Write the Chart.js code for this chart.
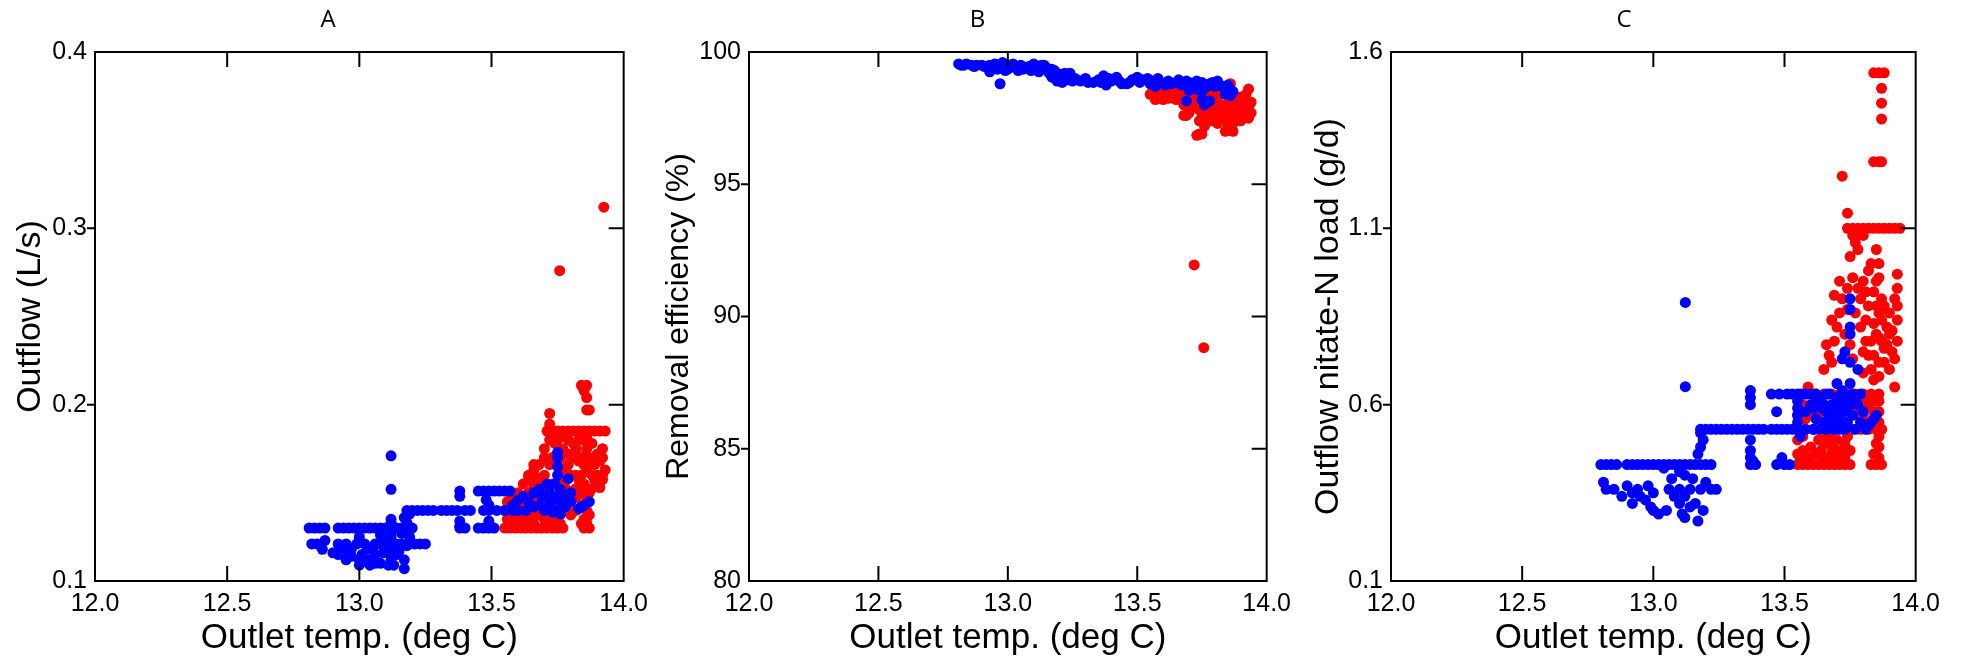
<!DOCTYPE html>
<html>
<head>
<meta charset="utf-8">
<script src="https://cdn.jsdelivr.net/npm/chart.js@4.4.1/dist/chart.umd.min.js"></script>
<style>
html,body{margin:0;padding:0;background:#fff;width:1971px;height:662px;overflow:hidden;}
canvas{position:absolute;top:0;}
</style>
</head>
<body>
<canvas id="cA" style="left:0px"></canvas>
<canvas id="cB" style="left:656px"></canvas>
<canvas id="cC" style="left:1300px"></canvas>
<script>
// ---------- DATA ----------
const panelTitles = ['A', 'B', 'C'];
const xTitle = 'Outlet temp. (deg C)';
const yTitles = ['Outflow (L/s)', 'Removal efficiency (%)', 'Outflow nitate-N load (g/d)'];

const xTickValues = [12.0, 12.5, 13.0, 13.5, 14.0];
const xTickLabels = ['12.0', '12.5', '13.0', '13.5', '14.0'];

const yTickValuesA = [0.1, 0.2, 0.3, 0.4];
const yTickLabelsA = ['0.1', '0.2', '0.3', '0.4'];
const yTickValuesB = [80, 85, 90, 95, 100];
const yTickLabelsB = ['80', '85', '90', '95', '100'];
const yTickValuesC = [0.1, 0.6, 1.1, 1.6];
const yTickLabelsC = ['0.1', '0.6', '1.1', '1.6'];

// Panel A: outflow (L/s) vs outlet temperature
const blueA = [
 [12.81,0.130],[12.83,0.130],[12.85,0.130],[12.87,0.130],[12.92,0.130],[12.94,0.130],[12.96,0.130],[12.98,0.130],[13.00,0.130],[13.02,0.130],[13.04,0.130],[13.06,0.130],[13.08,0.130],[13.10,0.130],[13.12,0.130],[13.14,0.130],[13.16,0.130],[13.18,0.130],[13.20,0.130],
 [12.82,0.121],[12.84,0.121],[12.92,0.121],[12.95,0.121],[12.99,0.121],[13.02,0.121],[13.08,0.121],[13.10,0.121],[13.14,0.121],[13.16,0.121],[13.19,0.121],[13.21,0.121],[13.23,0.121],[13.25,0.121],
 [12.86,0.118],[12.93,0.118],[12.97,0.118],[13.05,0.118],[13.12,0.118],
 [12.92,0.115],[12.96,0.115],[13.01,0.115],[13.06,0.115],[13.12,0.115],[13.14,0.115],
 [12.95,0.112],[13.00,0.112],[13.04,0.112],[13.12,0.112],[13.17,0.112],
 [13.00,0.109],[13.04,0.109],[13.06,0.110],[13.11,0.109],[13.13,0.109],[13.17,0.107],
 [12.87,0.123],[12.90,0.116],[12.94,0.119],[12.97,0.114],[13.03,0.118],[13.06,0.121],[13.09,0.116],[13.15,0.117],[13.18,0.120],[13.02,0.111],[13.08,0.110],
 [13.00,0.125],[13.08,0.126],[13.11,0.124],[13.16,0.127],[13.19,0.125],
 [13.12,0.122],[13.12,0.125],[13.12,0.128],[13.12,0.133],[13.12,0.135],
 [13.18,0.133],[13.17,0.136],[13.19,0.138],
 [13.18,0.140],[13.20,0.140],[13.22,0.140],[13.24,0.140],[13.26,0.140],[13.28,0.140],[13.31,0.140],[13.33,0.140],[13.35,0.140],[13.37,0.140],[13.40,0.140],[13.42,0.140],[13.47,0.140],[13.49,0.140],[13.52,0.140],[13.55,0.140],[13.58,0.140],[13.60,0.140],
 [13.38,0.151],[13.38,0.148],[13.38,0.134],[13.38,0.131],[13.38,0.130],[13.40,0.130],
 [13.45,0.151],[13.47,0.151],[13.49,0.151],[13.51,0.151],[13.53,0.151],[13.55,0.151],[13.57,0.151],
 [13.48,0.146],[13.49,0.143],
 [13.45,0.130],[13.47,0.130],[13.49,0.130],[13.51,0.130],[13.49,0.134],
 [13.58,0.143],[13.60,0.146],[13.62,0.148],[13.64,0.145],[13.66,0.150],[13.68,0.152],[13.68,0.143],[13.70,0.148],[13.70,0.140],[13.72,0.150],[13.72,0.144],[13.74,0.155],[13.74,0.147],[13.74,0.140],[13.75,0.160],[13.75,0.165],[13.75,0.170],[13.75,0.173],[13.76,0.152],[13.76,0.145],[13.78,0.148],[13.78,0.142],[13.79,0.158],[13.80,0.150],[13.80,0.145],[13.76,0.138],[13.73,0.139],[13.69,0.148],[13.71,0.155],[13.66,0.142],[13.63,0.140],
 [13.83,0.141],[13.85,0.143],[13.87,0.145],[13.84,0.142],
 [13.12,0.171],[13.12,0.152]
];
const redA = [
 [13.55,0.130],[13.57,0.130],[13.59,0.130],[13.61,0.130],[13.63,0.130],[13.65,0.130],[13.67,0.130],[13.69,0.130],[13.71,0.130],[13.73,0.130],[13.75,0.130],[13.77,0.130],[13.85,0.130],[13.87,0.130],
 [13.58,0.1325],[13.62,0.1325],[13.66,0.1325],[13.72,0.1325],[13.76,0.1325],[13.84,0.1325],
 [13.56,0.135],[13.60,0.135],[13.64,0.135],[13.70,0.135],[13.74,0.135],[13.85,0.135],[13.86,0.133],
 [13.57,0.1375],[13.61,0.1375],[13.65,0.1375],[13.68,0.1375],[13.72,0.1375],[13.76,0.1375],[13.80,0.1375],[13.87,0.1375],
 [13.55,0.140],[13.58,0.140],[13.62,0.140],[13.66,0.140],[13.70,0.140],[13.74,0.140],[13.78,0.140],[13.82,0.140],[13.86,0.140],
 [13.60,0.1425],[13.64,0.1425],[13.68,0.1425],[13.72,0.1425],[13.76,0.1425],[13.84,0.1425],
 [13.56,0.145],[13.59,0.145],[13.63,0.145],[13.67,0.145],[13.80,0.145],[13.86,0.145],
 [13.58,0.1475],[13.62,0.1475],[13.66,0.1475],[13.70,0.1475],[13.74,0.1475],[13.78,0.1475],[13.82,0.1475],[13.86,0.1475],
 [13.57,0.150],[13.60,0.150],[13.64,0.150],[13.68,0.150],[13.72,0.150],[13.76,0.150],[13.80,0.150],[13.84,0.150],[13.87,0.150],
 [13.66,0.1525],[13.70,0.1525],[13.78,0.1525],[13.82,0.1525],[13.88,0.1525],
 [13.62,0.155],[13.66,0.155],[13.73,0.155],[13.85,0.155],[13.91,0.153],
 [13.64,0.1575],[13.69,0.1575],[13.76,0.1575],[13.83,0.1575],[13.89,0.1575],[13.92,0.1575],
 [13.64,0.160],[13.66,0.160],[13.70,0.160],[13.80,0.160],[13.82,0.160],[13.84,0.160],[13.88,0.160],[13.90,0.160],[13.92,0.160],
 [13.66,0.163],[13.78,0.163],[13.86,0.163],[13.93,0.163],
 [13.66,0.166],[13.68,0.166],[13.72,0.166],[13.79,0.166],[13.85,0.166],[13.89,0.166],
 [13.75,0.168],[13.83,0.168],[13.91,0.168],
 [13.70,0.170],[13.73,0.170],[13.76,0.170],[13.81,0.170],[13.84,0.170],[13.87,0.170],[13.92,0.170],
 [13.79,0.172],[13.90,0.172],
 [13.70,0.175],[13.77,0.175],[13.82,0.175],[13.86,0.175],[13.92,0.175],
 [13.74,0.178],[13.81,0.178],[13.88,0.178],
 [13.72,0.180],[13.75,0.180],[13.79,0.180],[13.83,0.180],[13.85,0.180],
 [13.77,0.182],[13.86,0.182],
 [13.71,0.185],[13.73,0.185],[13.75,0.185],[13.77,0.185],[13.79,0.185],[13.81,0.185],[13.83,0.185],[13.85,0.185],[13.87,0.185],[13.89,0.185],[13.91,0.185],[13.93,0.185],
 [13.72,0.189],[13.72,0.195],[13.86,0.197],[13.87,0.197],[13.86,0.204],[13.85,0.208],[13.84,0.211],[13.86,0.211],
 [13.758,0.276],[13.925,0.312]
];

// Panel B: removal efficiency (%) vs outlet temperature
const blueB = [
 [12.81,99.55],[12.83,99.50],[12.84,99.55],[12.86,99.50],[12.88,99.50],[12.91,99.45],[12.93,99.50],[12.95,99.55],[12.97,99.45],[12.98,99.60],[13.00,99.50],[13.00,99.35],[13.02,99.55],[13.03,99.40],[13.05,99.50],[13.06,99.35],[13.08,99.45],[13.10,99.55],[13.11,99.40],[13.13,99.50],[13.14,99.35],[12.93,99.25],[12.96,99.35],[12.99,99.30],[13.04,99.30],[13.09,99.30],[13.12,99.25],
 [12.82,99.50],[12.87,99.45],[12.90,99.50],[12.94,99.40],[12.96,99.50],[13.01,99.45],[13.07,99.40],[13.12,99.40],[13.14,99.50],[13.17,99.35],[13.19,99.20],[13.21,99.10],
 [12.97,98.80],
 [13.15,99.40],[13.16,99.20],[13.17,99.05],[13.18,99.30],[13.19,98.90],[13.20,99.10],[13.21,98.85],[13.22,99.20],[13.23,98.95],[13.24,99.20],[13.25,98.90],
 [13.26,99.00],[13.31,98.85],[13.35,98.95],[13.39,99.00],[13.43,98.90],[13.47,98.85],[13.51,98.85],[13.55,98.80],[13.58,99.00],[13.62,98.90],[13.66,98.95],[13.70,98.85],[13.74,98.75],[13.78,98.80],[13.80,98.70],[13.83,98.70],[13.85,98.75],[13.87,98.50],
 [13.28,98.90],[13.30,99.00],[13.33,98.85],[13.36,98.85],[13.37,99.10],[13.38,98.75],[13.40,98.90],[13.42,99.05],[13.44,98.80],[13.46,98.80],[13.48,98.95],[13.50,99.05],[13.52,98.95],[13.54,99.00],[13.56,98.90],[13.57,98.70],[13.59,98.85],[13.61,98.75],[13.63,98.80],[13.65,98.85],[13.67,98.75],[13.69,98.90],[13.69,98.15],[13.71,98.80],[13.73,98.90],[13.75,98.85],[13.75,98.50],[13.75,98.20],[13.76,98.00],[13.77,98.70],[13.78,98.15],[13.79,98.85],[13.81,98.90],[13.82,98.75],[13.84,98.65],[13.86,98.60],[13.86,98.35],[13.84,98.40],[13.70,98.55],[13.73,98.60]
];
const redB = [
 [13.55,98.40],[13.57,98.30],[13.58,98.50],[13.60,98.35],[13.61,98.55],[13.62,98.25],[13.64,98.45],[13.65,98.30],[13.66,98.55],[13.67,98.20],[13.68,98.00],[13.69,97.60],[13.70,97.70],[13.71,98.40],[13.72,98.60],[13.73,98.10],[13.74,97.80],[13.74,97.40],[13.73,96.85],[13.75,96.90],[13.76,97.20],[13.77,97.60],[13.78,97.90],[13.79,98.30],[13.80,97.70],[13.81,98.10],[13.82,97.80],[13.83,97.50],[13.84,98.00],[13.84,97.00],[13.85,98.50],[13.86,98.80],[13.86,97.70],[13.87,97.00],[13.87,98.20],[13.88,97.50],[13.89,98.00],[13.90,97.70],[13.91,98.20],[13.92,98.00],[13.93,98.60],[13.93,97.50],[13.92,97.80],[13.94,98.10],[13.90,98.30],[13.88,97.80],[13.80,97.50],[13.77,98.40],[13.76,97.70],[13.83,98.50],[13.79,97.40],
 [13.56,98.50],[13.59,98.30],[13.63,98.35],[13.66,98.40],[13.69,98.30],[13.70,98.10],[13.71,97.90],[13.72,98.20],[13.75,97.50],[13.76,98.30],[13.78,97.50],[13.78,98.60],[13.80,98.20],[13.81,97.60],[13.82,98.40],[13.83,97.90],[13.84,97.60],[13.85,97.30],[13.85,97.90],[13.86,98.20],[13.87,97.60],[13.88,98.30],[13.89,97.60],[13.90,97.40],[13.91,97.90],[13.92,98.40],[13.93,97.90],[13.94,97.70],[13.74,96.90],[13.76,97.90],[13.79,98.00],[13.81,97.30],[13.86,97.20],[13.87,97.30],[13.68,97.60],[13.74,98.50],[13.77,98.10],[13.65,98.20],[13.60,98.20],[13.57,98.20],
 [13.72,91.95],[13.757,88.82]
];

// Panel C: outflow nitrate-N load (g/d) vs outlet temperature
const blueC = [
 [12.80,0.43],[12.82,0.43],[12.84,0.43],[12.86,0.43],[12.90,0.43],[12.92,0.43],[12.94,0.43],[12.96,0.43],[12.98,0.43],[13.00,0.43],[13.02,0.43],[13.04,0.43],[13.06,0.43],[13.08,0.43],[13.10,0.43],[13.12,0.43],[13.14,0.43],[13.16,0.43],[13.18,0.43],[13.20,0.43],[13.22,0.43],
 [12.81,0.38],[12.82,0.36],[12.85,0.36],[12.88,0.34],[12.90,0.37],[12.92,0.35],[12.92,0.32],[12.94,0.36],[12.95,0.34],[12.97,0.33],[12.98,0.37],[12.99,0.31],[13.00,0.35],[13.00,0.30],[13.02,0.29],[13.05,0.30],[13.06,0.36],[13.07,0.39],[13.08,0.34],[13.10,0.32],[13.10,0.36],[13.11,0.29],[13.12,0.34],[13.12,0.28],[13.14,0.31],[13.14,0.36],[13.15,0.39],[13.16,0.32],[13.17,0.27],[13.18,0.36],[13.19,0.30],[13.20,0.38],[13.22,0.36],[13.24,0.36],[13.12,0.40],[13.10,0.41],[13.04,0.42],
 [13.17,0.46],[13.18,0.48],[13.19,0.50],[13.18,0.52],
 [13.18,0.53],[13.20,0.53],[13.22,0.53],[13.24,0.53],[13.26,0.53],[13.28,0.53],[13.30,0.53],[13.32,0.53],[13.34,0.53],[13.36,0.53],[13.38,0.53],[13.40,0.53],[13.42,0.53],[13.45,0.53],[13.47,0.53],[13.49,0.53],[13.51,0.53],[13.53,0.53],[13.55,0.53],[13.58,0.53],[13.61,0.53],
 [13.37,0.64],[13.37,0.62],[13.37,0.60],[13.37,0.50],[13.37,0.47],[13.37,0.45],[13.38,0.44],[13.37,0.43],[13.39,0.43],
 [13.45,0.63],[13.48,0.63],[13.51,0.63],[13.53,0.63],[13.55,0.63],[13.58,0.63],[13.60,0.63],[13.62,0.63],
 [13.47,0.58],[13.52,0.43],[13.49,0.45],[13.47,0.43],[13.50,0.43],
 [13.55,0.61],[13.55,0.59],[13.55,0.57],[13.55,0.55],[13.56,0.51],
 [13.61,0.59],[13.62,0.56],[13.64,0.62],[13.65,0.55],[13.66,0.58],[13.67,0.63],[13.68,0.60],[13.68,0.55],[13.69,0.53],[13.70,0.62],[13.70,0.57],[13.71,0.60],[13.72,0.54],[13.72,0.64],[13.73,0.58],[13.74,0.62],[13.74,0.55],[13.75,0.60],[13.75,0.66],[13.75,0.72],[13.75,0.80],[13.75,0.82],[13.75,0.87],[13.75,0.90],[13.76,0.57],[13.76,0.63],[13.77,0.53],[13.78,0.60],[13.78,0.70],[13.79,0.63],[13.80,0.58],[13.72,0.73],[13.73,0.75],[13.70,0.66],[13.66,0.63],[13.63,0.53],[13.64,0.59],
 [13.62,0.61],[13.65,0.60],[13.67,0.56],[13.69,0.58],[13.71,0.56],[13.73,0.61],[13.74,0.59],[13.77,0.62],[13.79,0.55],[13.66,0.53],[13.71,0.53],[13.73,0.53],[13.60,0.60],[13.57,0.63],[13.58,0.58],
 [13.81,0.53],[13.82,0.54],[13.83,0.55],[13.84,0.56],[13.85,0.57],
 [13.122,0.89],[13.122,0.651]
];
const redC = [
 [13.55,0.43],[13.57,0.43],[13.59,0.43],[13.61,0.43],[13.63,0.43],[13.65,0.43],[13.67,0.43],[13.69,0.43],[13.71,0.43],[13.73,0.43],[13.75,0.43],[13.83,0.43],[13.85,0.43],[13.87,0.43],
 [13.55,0.53],[13.58,0.53],[13.61,0.53],[13.64,0.53],[13.67,0.53],[13.70,0.53],[13.73,0.53],[13.76,0.53],[13.79,0.53],[13.82,0.53],[13.85,0.53],[13.87,0.53],
 [13.56,0.63],[13.59,0.63],[13.62,0.63],[13.65,0.63],[13.68,0.63],[13.71,0.63],[13.74,0.63],[13.77,0.63],[13.80,0.63],[13.83,0.63],[13.86,0.63],
 [13.55,0.46],[13.55,0.50],[13.55,0.57],[13.57,0.47],[13.59,0.45],[13.65,0.45],[13.65,0.49],[13.65,0.52],[13.68,0.48],[13.68,0.50],[13.68,0.46],[13.70,0.47],[13.73,0.45],[13.73,0.49],[13.75,0.47],[13.86,0.45],[13.86,0.48],[13.86,0.51],[13.86,0.55],[13.86,0.58],[13.86,0.61],
 [13.56,0.44],[13.57,0.51],[13.60,0.48],[13.62,0.46],[13.64,0.47],[13.66,0.44],[13.67,0.51],[13.69,0.45],[13.70,0.50],[13.71,0.44],[13.72,0.47],[13.74,0.51],[13.63,0.50],[13.58,0.56],[13.57,0.60],[13.60,0.58],[13.63,0.57],[13.80,0.57],[13.82,0.60],[13.84,0.58],[13.85,0.61],[13.81,0.62],[13.77,0.59],[13.79,0.56],[13.86,0.44],[13.84,0.46],[13.87,0.53],[13.85,0.49],
 [13.59,0.65],[13.61,0.63],[13.65,0.70],[13.67,0.74],[13.66,0.77],[13.69,0.78],[13.70,0.82],[13.68,0.84],[13.69,0.91],[13.71,0.95],[13.72,0.90],[13.74,0.93],[13.74,0.87],[13.75,0.77],[13.76,0.96],[13.76,0.73],[13.78,0.93],[13.79,0.82],[13.80,0.75],[13.80,0.95],[13.81,0.78],[13.82,0.88],[13.82,0.98],[13.83,0.70],[13.83,1.00],[13.84,0.74],[13.84,0.92],[13.85,1.04],[13.85,0.80],[13.86,0.86],[13.86,0.96],[13.86,0.72],[13.87,0.90],[13.87,0.78],[13.88,0.76],[13.89,0.82],[13.90,0.70],[13.90,0.80],[13.91,0.75],[13.92,0.73],[13.93,0.78],[13.93,0.84],[13.93,0.88],[13.93,0.93],[13.93,0.97],[13.92,0.65],[13.80,1.08],[13.75,1.02],[13.78,1.04],
 [13.68,0.72],[13.71,0.86],[13.73,0.80],[13.77,0.86],[13.79,0.90],[13.81,0.84],[13.82,0.74],[13.84,0.83],[13.85,0.88],[13.85,0.95],[13.86,0.79],[13.87,0.84],[13.88,0.88],[13.88,0.72],[13.89,0.77],[13.90,0.86],[13.91,0.81],[13.92,0.90],[13.83,0.78],[13.81,0.92],[13.86,1.00],[13.86,0.68],[13.84,0.67],[13.80,0.69],[13.77,1.06],
 [13.74,1.10],[13.76,1.10],[13.78,1.10],[13.80,1.10],[13.82,1.10],[13.84,1.10],[13.86,1.10],[13.88,1.10],[13.90,1.10],[13.92,1.10],[13.94,1.10],[13.76,1.08],
 [13.84,1.289],[13.86,1.289],[13.87,1.289],[13.87,1.41],[13.87,1.455],[13.87,1.497],[13.84,1.541],[13.86,1.541],[13.88,1.541],
 [13.72,1.248],[13.74,1.143]
];

// ---------- RENDERING ----------
const BLUE = '#0000ff', RED = '#ff0000';
const TICK_FONT = {family: "'Liberation Sans', Arial, sans-serif", size: 25};

const frameTicks = {
  id: 'frameTicks',
  afterDatasetsDraw(chart) {
    const {ctx, chartArea: {left, right, top, bottom}, scales: {x, y}} = chart;
    ctx.save();
    ctx.strokeStyle = '#000';
    ctx.lineWidth = 2;
    ctx.strokeRect(left, top, right - left, bottom - top);
    ctx.beginPath();
    x.ticks.forEach(t => {
      const px = x.getPixelForValue(t.value);
      if (px <= left + 1 || px >= right - 1) return;
      ctx.moveTo(px, top); ctx.lineTo(px, top + 15);
      ctx.moveTo(px, bottom); ctx.lineTo(px, bottom - 15);
    });
    y.ticks.forEach(t => {
      const py = y.getPixelForValue(t.value);
      if (py <= top + 1 || py >= bottom - 1) return;
      ctx.moveTo(left - 8, py); ctx.lineTo(left, py);
      ctx.moveTo(right, py); ctx.lineTo(right - 15, py);
    });
    ctx.stroke();
    ctx.restore();
  }
};

function makeChart(id, cfg) {
  const cv = document.getElementById(id);
  cv.width = cfg.width; cv.height = 662;
  cv.style.width = cfg.width + 'px'; cv.style.height = '662px';
  return new Chart(cv, {
    type: 'scatter',
    data: {
      datasets: [
        {data: cfg.blue.map(([x, y]) => ({x, y})), backgroundColor: BLUE, borderWidth: 0, pointRadius: 5.5, pointHoverRadius: 5.5},
        {data: cfg.red.map(([x, y]) => ({x, y})), backgroundColor: RED, borderWidth: 0, pointRadius: 5.5, pointHoverRadius: 5.5}
      ]
    },
    options: {
      responsive: false,
      animation: false,
      devicePixelRatio: 1,
      events: [],
      layout: {padding: 0},
      plugins: {
        legend: {display: false},
        tooltip: {enabled: false},
        title: {
          display: true, text: cfg.title, color: '#000',
          font: {family: "'Open Sans', sans-serif", size: 24, weight: 'normal', lineHeight: 1.2},
          padding: {top: 5.3, bottom: 17.9}
        }
      },
      scales: {
        x: {
          type: 'linear', min: 12, max: 14,
          afterBuildTicks: s => { s.ticks = xTickValues.map(v => ({value: v})); },
          afterFit: s => { s.height = 81; },
          grid: {display: false, drawTicks: false},
          border: {display: false},
          ticks: {font: TICK_FONT, color: '#000', padding: 8, maxRotation: 0, minRotation: 0, autoSkip: false,
                  callback: (v, i) => xTickLabels[i]},
          title: {display: true, text: xTitle, color: '#000',
                  font: {family: "'Liberation Sans', Arial, sans-serif", size: 35, lineHeight: 1},
                  padding: {top: 0, bottom: 6.6}}
        },
        y: {
          type: 'linear', position: 'left', min: cfg.yMin, max: cfg.yMax,
          afterBuildTicks: s => { s.ticks = cfg.yTicks.map(v => ({value: v})); },
          afterFit: s => { s.width = cfg.yWidth; },
          grid: {display: false, drawTicks: false},
          border: {display: false},
          ticks: {font: TICK_FONT, color: '#000', padding: 8, autoSkip: false,
                  callback: (v, i) => cfg.yLabels[i]},
          title: {display: true, text: cfg.yTitle, color: '#000',
                  font: {family: "'Liberation Sans', Arial, sans-serif", size: cfg.yTitleSize, lineHeight: 1.2},
                  padding: {top: cfg.yTitlePad, bottom: 0}}
        },
        spacer: {
          type: 'linear', position: 'right', display: true,
          afterFit: s => { s.width = cfg.padRight; },
          grid: {display: false, drawTicks: false},
          border: {display: false},
          ticks: {display: false},
          title: {display: false}
        }
      }
    },
    plugins: [frameTicks]
  });
}

makeChart('cA', {width: 656, padRight: 32, yWidth: 95, title: panelTitles[0], blue: blueA, red: redA,
  yMin: 0.1, yMax: 0.4, yTicks: yTickValuesA, yLabels: yTickLabelsA, yTitle: yTitles[0], yTitleSize: 34, yTitlePad: 9.8});
makeChart('cB', {width: 643, padRight: 27, yWidth: 93, title: panelTitles[1], blue: blueB, red: redB,
  yMin: 80, yMax: 100, yTicks: yTickValuesB, yLabels: yTickLabelsB, yTitle: yTitles[1], yTitleSize: 32, yTitlePad: 3.7});
makeChart('cC', {width: 648, padRight: 29, yWidth: 91, title: panelTitles[2], blue: blueC, red: redC,
  yMin: 0.1, yMax: 1.6, yTicks: yTickValuesC, yLabels: yTickLabelsC, yTitle: yTitles[2], yTitleSize: 34, yTitlePad: 8.1});
</script>
</body>
</html>
